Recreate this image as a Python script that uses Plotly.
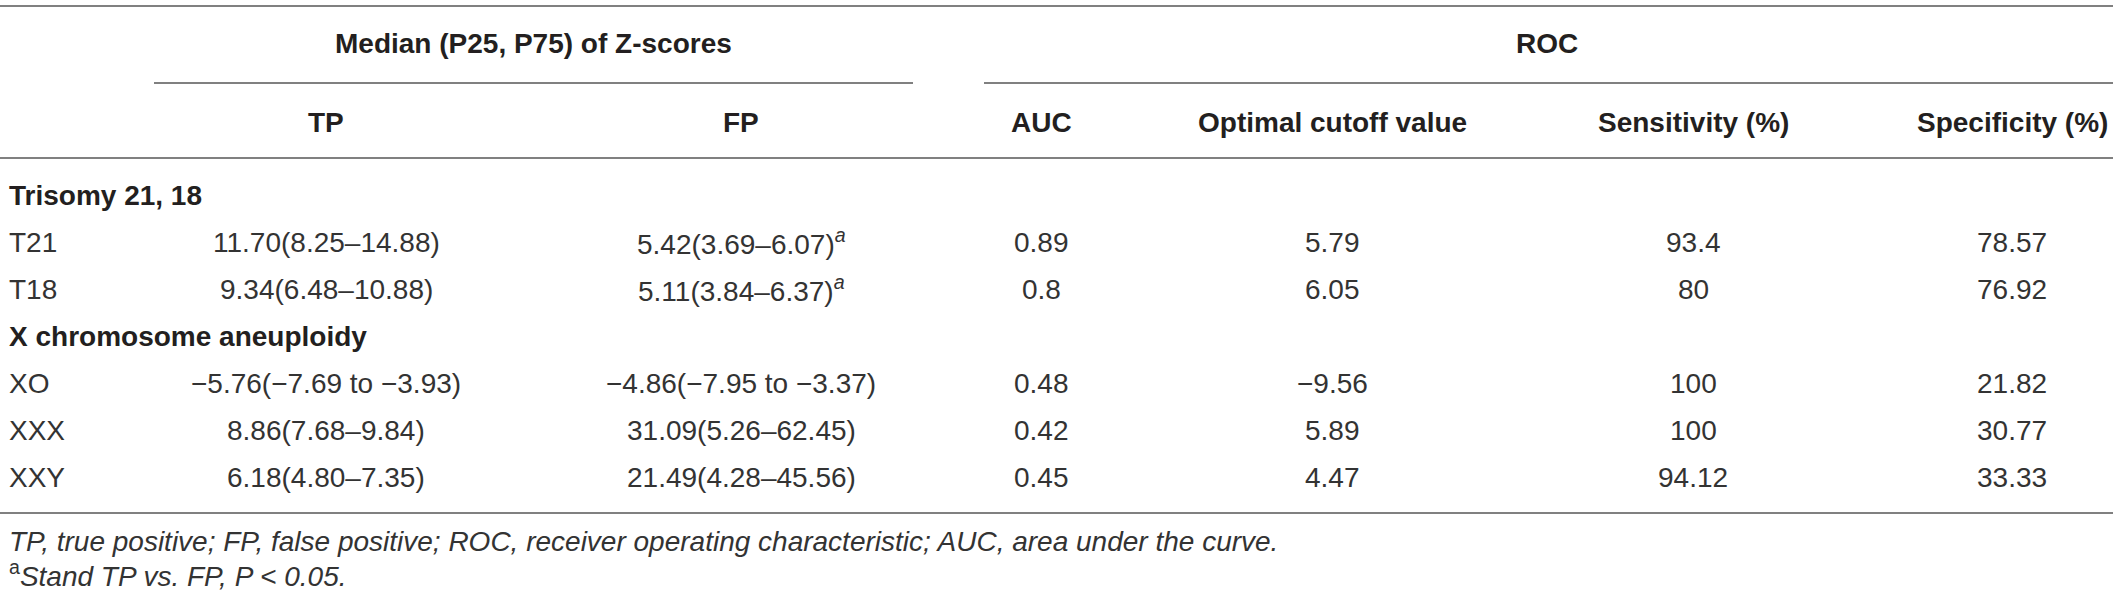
import plotly.graph_objects as go

# table content
group_names = ["Trisomy 21, 18", "X chromosome aneuploidy"]
group_rows = [["T21", "T18"], ["XO", "XXX", "XXY"]]

tp_med = [11.70, 9.34, -5.76, 8.86, 6.18]
tp_p25 = [8.25, 6.48, -7.69, 7.68, 4.80]
tp_p75 = [14.88, 10.88, -3.93, 9.84, 7.35]

fp_med = [5.42, 5.11, -4.86, 31.09, 21.49]
fp_p25 = [3.69, 3.84, -7.95, 5.26, 4.28]
fp_p75 = [6.07, 6.37, -3.37, 62.45, 45.56]
fp_sig = [True, True, False, False, False]

auc = [0.89, 0.8, 0.48, 0.42, 0.45]
cutoff = [5.79, 6.05, -9.56, 5.89, 4.47]
sensitivity = [93.4, 80, 100, 100, 94.12]
specificity = [78.57, 76.92, 21.82, 30.77, 33.33]

top_headers = ["Median (P25, P75) of Z-scores", "ROC"]
col_headers = ["TP", "FP", "AUC", "Optimal cutoff value", "Sensitivity (%)", "Specificity (%)"]

footnotes = [
    "<i>TP, true positive; FP, false positive; ROC, receiver operating characteristic; AUC, area under the curve.</i>",
    "<sup>a</sup><i>Stand TP vs. FP, P &lt; 0.05.</i>",
]

W, H = 2118, 597
FONT = "Liberation Sans, Arial, Helvetica, sans-serif"
HEAD_C = "#231f20"
BODY_C = "#333333"
LINE_C = "#808080"
FS = 28

col_x = [326, 741, 1041, 1332, 1693, 2012]
top_x = [533, 1547]
right_edge = 2113


def num(v):
    return str(v).replace("-", "\u2212")


def zscore(m, lo, hi):
    if lo < 0 or hi < 0:
        return f"{m:.2f}({lo:.2f} to {hi:.2f})".replace("-", "\u2212")
    return f"{m:.2f}({lo:.2f}\u2013{hi:.2f})"


fig = go.Figure()
annotations = []


def add_text(x, y, text, bold=False, anchor="center", color=BODY_C):
    annotations.append(dict(
        x=x, y=y, xref="x", yref="y", text=text, showarrow=False,
        xanchor=anchor, yanchor="middle",
        font=dict(family=FONT, size=FS, color=HEAD_C if bold else color,
                  weight="bold" if bold else "normal"),
    ))


# header rows
for x, t in zip(top_x, top_headers):
    add_text(x, 43, t, bold=True)
for x, t in zip(col_x, col_headers):
    add_text(x, 122, t, bold=True)

# body
y = 195
k = 0
for g, rows in zip(group_names, group_rows):
    add_text(7, y, g, bold=True, anchor="left")
    y += 47
    for lab in rows:
        add_text(7, y, lab, anchor="left")
        add_text(col_x[0], y, zscore(tp_med[k], tp_p25[k], tp_p75[k]))
        fp = zscore(fp_med[k], fp_p25[k], fp_p75[k])
        if fp_sig[k]:
            fp += "<sup><i>a</i></sup>"
        add_text(col_x[1], y, fp)
        add_text(col_x[2], y, num(auc[k]))
        add_text(col_x[3], y, num(cutoff[k]))
        add_text(col_x[4], y, num(sensitivity[k]))
        add_text(col_x[5], y, num(specificity[k]))
        y += 47
        k += 1

# footnotes
add_text(7, 541, footnotes[0], anchor="left")
add_text(7, 574, footnotes[1], anchor="left")

# rules
shapes = []
for yl in [6, 158, 513]:
    shapes.append(dict(type="line", xref="x", yref="y", x0=0, x1=right_edge, y0=yl, y1=yl,
                       line=dict(color=LINE_C, width=2)))
shapes.append(dict(type="line", xref="x", yref="y", x0=154, x1=913, y0=83, y1=83,
                   line=dict(color=LINE_C, width=2)))
shapes.append(dict(type="line", xref="x", yref="y", x0=984, x1=right_edge, y0=83, y1=83,
                   line=dict(color=LINE_C, width=2)))

fig.update_layout(
    width=W, height=H,
    margin=dict(l=0, r=0, t=0, b=0),
    paper_bgcolor="white", plot_bgcolor="white",
    xaxis=dict(range=[0, W], visible=False, fixedrange=True),
    yaxis=dict(range=[H, 0], visible=False, fixedrange=True),
    annotations=annotations, shapes=shapes,
    showlegend=False,
)

# page body has a default 8px margin, drop it so the table sits flush
fig.write_html("out.html", config={"displayModeBar": False},
               post_script="document.body.style.margin='0';document.body.style.overflow='hidden';")
